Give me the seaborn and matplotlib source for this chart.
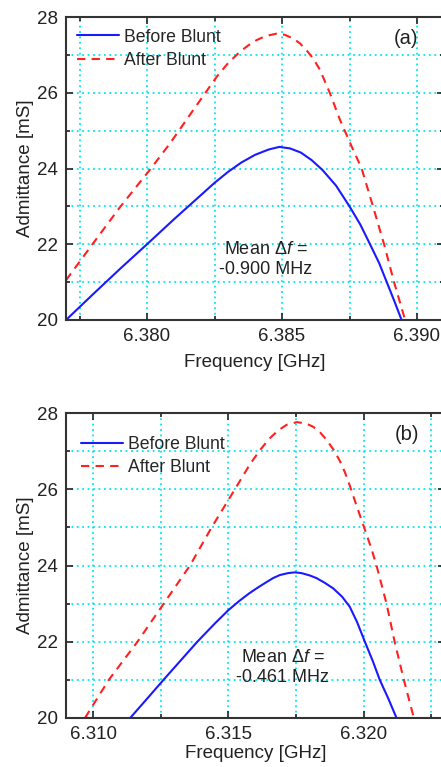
import numpy as np
import pandas as pd
import matplotlib
matplotlib.use("Agg")
import matplotlib.pyplot as plt
from matplotlib.ticker import MultipleLocator, FormatStrFormatter
import seaborn as sns

# ---------------------------------------------------------
# data (frequency in GHz, admittance in mS)
# ---------------------------------------------------------
a_before_f = [6.3770, 6.3780, 6.3790, 6.3800, 6.3810, 6.3815, 6.3820, 6.3825, 6.3830,
              6.3835, 6.3840, 6.3845, 6.3849, 6.3853, 6.3857, 6.3861, 6.3865, 6.3870,
              6.3875, 6.3879, 6.38826, 6.3886, 6.38888, 6.38916, 6.38943]
a_before_y = [20.00, 20.68, 21.35, 22.00, 22.66, 22.98, 23.30, 23.62, 23.91,
              24.16, 24.36, 24.50, 24.57, 24.53, 24.42, 24.22, 23.96, 23.55,
              23.00, 22.52, 22.00, 21.50, 21.00, 20.50, 20.00]

a_after_f = [6.3770, 6.3780, 6.3790, 6.3801, 6.38085, 6.38171, 6.38258, 6.38300, 6.38344,
             6.38375, 6.38406, 6.38440, 6.38480, 6.38510, 6.38542, 6.38567, 6.38591,
             6.38616, 6.38641, 6.38678, 6.38715, 6.38760, 6.38795, 6.38837, 6.38878,
             6.38915, 6.38956]
a_after_y = [21.05, 22.02, 22.98, 23.96, 24.66, 25.54, 26.42, 26.78, 27.08,
             27.25, 27.39, 27.50, 27.56, 27.53, 27.43, 27.30, 27.12,
             26.90, 26.60, 25.98, 25.28, 24.55, 24.00, 23.00, 22.00,
             21.00, 20.00]

b_before_f = [6.31137, 6.31200, 6.31260, 6.31320, 6.31385, 6.31450, 6.31500, 6.31540,
              6.31575, 6.31604, 6.31635, 6.31665, 6.31690, 6.31720, 6.31745, 6.31770,
              6.31800, 6.31825, 6.31855, 6.31887, 6.31920, 6.31948, 6.31975, 6.32004,
              6.32034, 6.32059, 6.32090, 6.32121]
b_before_y = [20.00, 20.51, 21.00, 21.48, 22.00, 22.48, 22.83, 23.07,
              23.26, 23.40, 23.54, 23.67, 23.75, 23.80, 23.82, 23.80,
              23.74, 23.67, 23.55, 23.40, 23.18, 22.92, 22.52, 22.00,
              21.48, 21.00, 20.52, 20.00]

b_after_f = [6.30970, 6.31058, 6.31164, 6.31261, 6.31358, 6.31438, 6.31524, 6.31579,
             6.31616, 6.31650, 6.31685, 6.31715, 6.31752, 6.31785, 6.31813, 6.31840,
             6.31862, 6.31890, 6.31911, 6.31930, 6.31948, 6.31967, 6.31985, 6.32010,
             6.32030, 6.32047, 6.32084, 6.32114, 6.32148, 6.32185]
b_after_y = [20.00, 21.00, 22.00, 23.00, 24.00, 25.00, 26.00, 26.65,
             27.02, 27.32, 27.55, 27.69, 27.76, 27.73, 27.64, 27.48,
             27.30, 27.02, 26.75, 26.45, 26.10, 25.70, 25.33, 24.82,
             24.40, 24.00, 23.00, 22.00, 21.00, 20.00]

panel_tags = ["(a)", "(b)"]
mean_shift = ["-0.900 MHz", "-0.461 MHz"]
series_names = ["Before Blunt", "After Blunt"]


def draw_panel(ax, before_f, before_y, after_f, after_y, xlim, xmajor, tag, shift,
               note_xy, legend_anchor, xpad):
    ax.grid(which="both", color="#00e8f0", linestyle=(0, (1, 2)), linewidth=1.3, zorder=0)

    sns.lineplot(x=before_f, y=before_y, ax=ax, color="#1a1aff", linewidth=1.5,
                 label=series_names[0], sort=False)
    sns.lineplot(x=after_f, y=after_y, ax=ax, color="#ff2020", linewidth=1.5,
                 linestyle=(0, (4, 3)), label=series_names[1], sort=False)

    ax.set_xlim(*xlim)
    ax.set_ylim(20, 28)
    ax.xaxis.set_major_locator(MultipleLocator(xmajor))
    ax.xaxis.set_minor_locator(MultipleLocator(xmajor / 2))
    ax.xaxis.set_major_formatter(FormatStrFormatter("%.3f"))
    ax.yaxis.set_major_locator(MultipleLocator(2))
    ax.yaxis.set_minor_locator(MultipleLocator(1))
    ax.tick_params(which="both", direction="in", top=True, right=True,
                   colors="#222222", labelsize=13.5, width=1.2)
    ax.tick_params(which="major", length=5, pad=6)
    ax.tick_params(which="minor", length=3)
    for sp in ax.spines.values():
        sp.set_linewidth(1.5)
        sp.set_color("#333333")

    ax.set_xlabel("Frequency [GHz]", fontsize=13.5, color="#222222", labelpad=xpad)
    ax.set_ylabel("Admittance [mS]", fontsize=13.5, color="#222222", labelpad=2)

    ax.text(0.90, 0.93, tag, transform=ax.transAxes, fontsize=14.5,
            color="#222222", ha="center", va="center")
    ax.text(note_xy[0], note_xy[1], "Mean $\\Delta\\mathit{f}$ =\n" + shift,
            fontsize=13, color="#222222", ha="center", va="center",
            linespacing=1.25)

    ax.legend(loc="upper left", bbox_to_anchor=legend_anchor, frameon=False,
              fontsize=12.7, handlelength=2.35, handletextpad=0.3,
              labelspacing=0.37, borderaxespad=0, borderpad=0)


def main():
    sns.set_theme(style="ticks")
    plt.rcParams["font.family"] = ["Liberation Sans", "DejaVu Sans"]
    plt.rcParams["mathtext.fontset"] = "custom"
    plt.rcParams["mathtext.rm"] = "Liberation Sans"
    plt.rcParams["mathtext.it"] = "Liberation Sans:italic"

    fig = plt.figure(figsize=(4.41, 7.67), dpi=100)
    W, H = 441.0, 767.0

    # axes boxes in pixels: left, right, top, bottom
    ax_a = fig.add_axes([66 / W, 1 - 320 / H, (444 - 66) / W, (320 - 17) / H])
    ax_b = fig.add_axes([66 / W, 1 - 718 / H, (445 - 66) / W, (718 - 413) / H])

    draw_panel(ax_a, a_before_f, a_before_y, a_after_f, a_after_y,
               (6.377, 6.391), 0.005, panel_tags[0], mean_shift[0],
               (6.3844, 21.6), (0.03, 0.962), 6)
    draw_panel(ax_b, b_before_f, b_before_y, b_after_f, b_after_y,
               (6.309, 6.323), 0.005, panel_tags[1], mean_shift[1],
               (6.3170, 21.33), (0.04, 0.925), 1)

    fig.savefig("out.png", dpi=100)


if __name__ == "__main__":
    main()
